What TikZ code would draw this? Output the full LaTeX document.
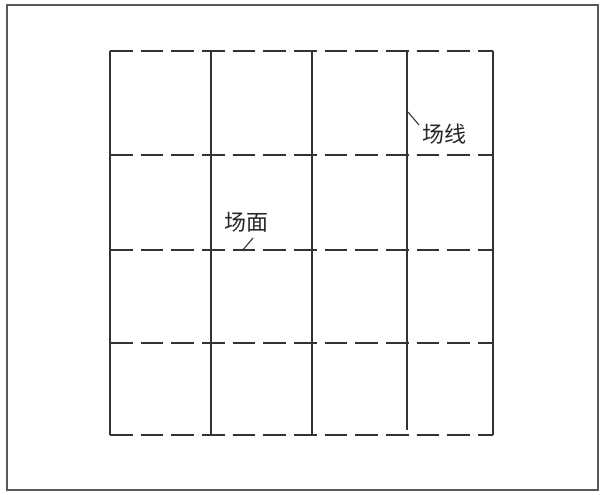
\documentclass[tikz,border=0pt]{standalone}
\usepackage{fontspec}
\newfontfamily\cjk{Noto Sans CJK SC}
\begin{document}
\begin{tikzpicture}[x=0.75pt,y=-0.75pt,
  frame/.style={draw=black!65,line width=1.3pt},
  gridsolid/.style={draw=black!80,line width=1.1pt},
  griddash/.style={draw=black!80,line width=1.1pt,dash pattern=on 17pt off 6pt},
  leader/.style={draw=black!80,line width=0.8pt},
  lbl/.style={font=\cjk\fontsize{16.5}{18}\selectfont,inner sep=0pt,text=black!85}]
\useasboundingbox (0,0) rectangle (604,495);
\fill[white] (0,0) rectangle (604,495);
\draw[frame] (7,5) rectangle (598,490);
% vertical solid lines
\draw[gridsolid] (110,51) -- (110,435);
\draw[gridsolid] (211,51) -- (211,435);
\draw[gridsolid] (312,51) -- (312,435);
\draw[gridsolid] (407,51) -- (407,430);
\draw[gridsolid] (493,51) -- (493,435);
% horizontal dashed lines
\foreach \y in {51,155,250,343,435}
  \draw[griddash] (110,\y) -- (493,\y);
% labels
\node[lbl] (fieldline) at (444,134) {场线};
\coordinate (fl) at (408,112);
\coordinate (flend) at (419,125);
\draw[leader] (fl) -- (flend);
\node[lbl] (fieldface) at (246,222) {场面};
\coordinate (ff) at (242,251);
\coordinate (ffend) at (253,238);
\draw[leader] (ff) -- (ffend);
\end{tikzpicture}
\end{document}
